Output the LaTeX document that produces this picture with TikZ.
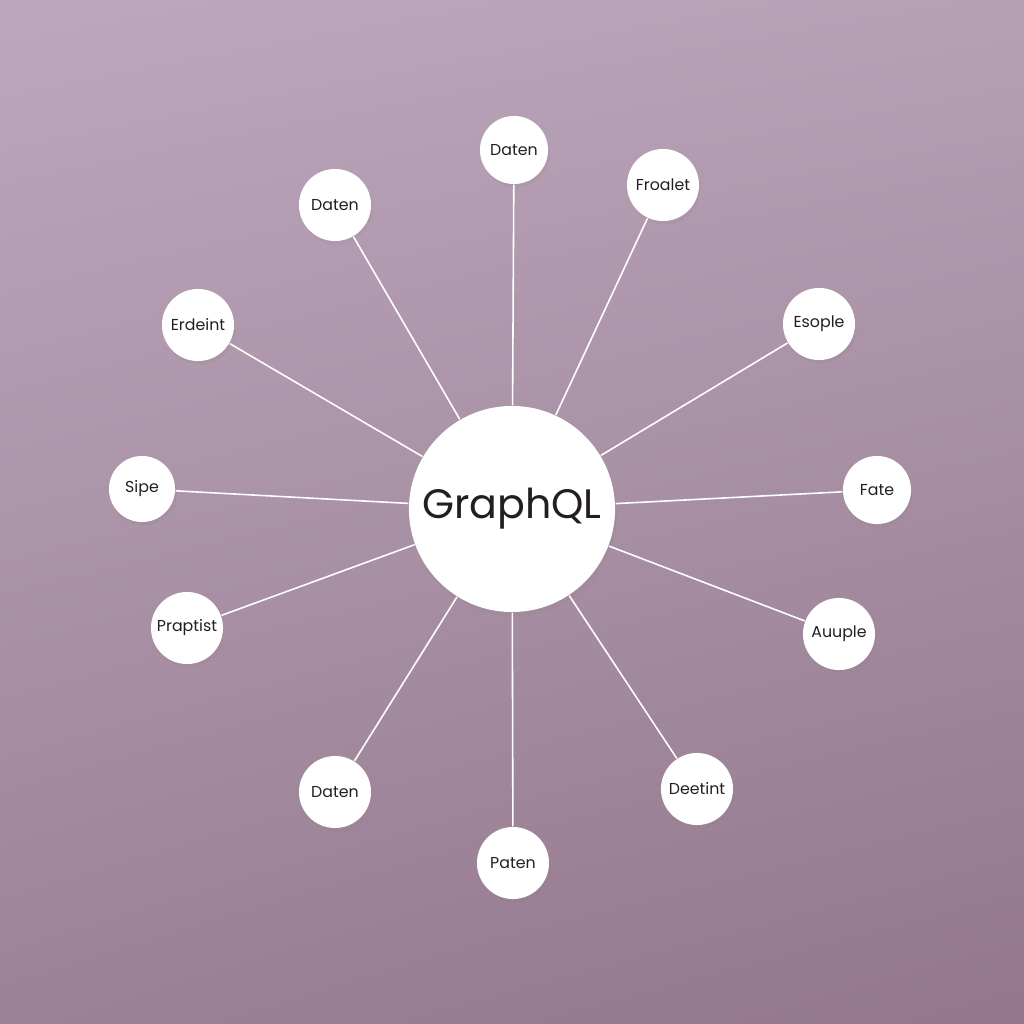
\documentclass[tikz,border=0pt]{standalone}
\usepackage{fontspec}
\setmainfont{Poppins}
\usetikzlibrary{shadows,shadings}
\definecolor{bgtl}{RGB}{189,167,189}
\definecolor{bgtr}{RGB}{181,160,180}
\definecolor{bgbl}{RGB}{156,130,150}
\definecolor{bgbr}{RGB}{147,118,140}
\definecolor{ink}{RGB}{34,30,34}
\tikzset{
  hubnode/.style={circle, fill=white, inner sep=0pt, minimum size=2.06cm, text=ink,
    font=\fontsize{11.7}{14}\selectfont,
    drop shadow={opacity=0.12, shadow xshift=0.6pt, shadow yshift=-1.2pt}},
  leaf/.style={circle, fill=white, inner sep=0pt, text=ink,
    font=\fontsize{4.5}{5.5}\selectfont,
    drop shadow={opacity=0.12, shadow xshift=0.5pt, shadow yshift=-1pt}},
  spoke/.style={white, line width=0.45pt}
}
\begin{document}
\begin{tikzpicture}[x=0.01cm, y=-0.01cm]
    % background
    \shade[upper left=bgtl, upper right=bgtr, lower left=bgbl, lower right=bgbr]
        (0,0) rectangle (1024,1024);
    \useasboundingbox (0,0) rectangle (1024,1024);

    \node[hubnode] (hub) at (512,509) {GraphQL};

    \foreach \n/\x/\y/\r/\t in {
        datenA/514/150/34/Daten,
        froalet/663/185/36/Froalet,
        datenB/335/205/36/Daten,
        erdeint/198/325/36/Erdeint,
        esople/819/324/36/Esople,
        sipe/142/489/33/Sipe,
        fate/877/490/34/Fate,
        praptist/187/628/36/Praptist,
        auuple/839/634/36/Auuple,
        datenC/335/792/36/Daten,
        deetint/697/789/36/Deetint,
        paten/513/863/36/Paten} {
        \node[leaf, minimum size=\r*0.02cm] (\n) at (\x,\y) {\t};
    }

    \foreach \n in {datenA,froalet,datenB,erdeint,esople,sipe,fate,praptist,auuple,datenC,deetint,paten} {
        \draw[spoke] (hub) -- (\n);
    }
\end{tikzpicture}
\end{document}
